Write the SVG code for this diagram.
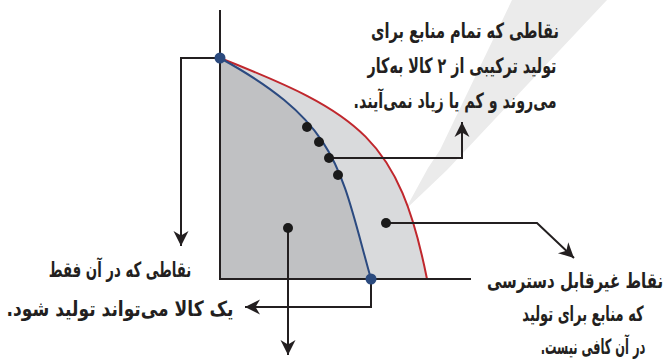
<svg xmlns="http://www.w3.org/2000/svg" width="664" height="362" viewBox="0 0 664 362">
<defs>
<marker id="arr" viewBox="-16 -8 17 16" refX="0" refY="0" markerWidth="17" markerHeight="16" markerUnits="userSpaceOnUse" orient="auto">
<path d="M0,0 L-15,-7.5 L-10.5,0 L-15,7.5 Z" fill="#231f20"/>
</marker>
</defs>
<style>
.t{font-family:"DejaVu Sans",sans-serif;font-weight:bold;font-size:21px;fill:#231f20;text-anchor:middle;direction:rtl;}
.ax{stroke:#231f20;stroke-width:2;fill:none;}
.cn{stroke:#231f20;stroke-width:2;fill:none;marker-end:url(#arr);}
.dot{fill:#1a1a1a;}
.bdot{fill:#2b4a7e;}
</style>
<rect width="664" height="362" fill="#ffffff"/>
<polygon id="band" points="512,0 607,0 447,170 405,210 428,168 440,150" fill="#ebebeb"/>
<g id="chart">
<path d="M220,58 C360,113 399,139 427,279 L220,279 Z" fill="#d9dadc"/>
<path d="M220,58 C340,124 340,169 371,279 L220,279 Z" fill="#c0c1c3"/>
<path d="M220,58 C360,113 399,139 427,279" stroke="#c0272d" stroke-width="2" fill="none"/>
<path d="M220,58 C340,124 340,169 371,279" stroke="#2b4a80" stroke-width="2" fill="none"/>
<line class="ax" x1="220" y1="10" x2="220" y2="279"/>
<line class="ax" x1="219" y1="279" x2="471" y2="279"/>
</g>
<g id="connectors">
<polyline class="cn" points="220,58 181,58 181,246"/>
<polyline class="cn" points="329,158 462,158 462,122"/>
<polyline class="cn" points="386,223 537,223 574,258"/>
<polyline class="cn" points="288,228 288,355"/>
<polyline class="cn" points="371,279 371,307 245,307"/>
</g>
<g id="points">
<circle class="bdot" cx="220" cy="58" r="5.5"/>
<circle class="bdot" cx="371" cy="279" r="5.5"/>
<circle class="dot" cx="307" cy="127" r="5"/>
<circle class="dot" cx="319" cy="142" r="5"/>
<circle class="dot" cx="329" cy="158" r="5"/>
<circle class="dot" cx="338" cy="175" r="5"/>
<circle class="dot" cx="386" cy="223" r="5"/>
<circle class="dot" cx="288" cy="228" r="5"/>
</g>
<g id="label-top">
<text class="t" transform="translate(465,38) scale(0.695,1)">نقاطی که تمام منابع برای</text>
<text class="t" transform="translate(462,73) scale(0.679,1)">تولید ترکیبی از ۲ کالا به‌کار</text>
<text class="t" transform="translate(455,108) scale(0.679,1)">می‌روند و کم یا زیاد نمی‌آیند.</text>
</g>
<g id="label-left">
<text class="t" transform="translate(120,277) scale(0.633,1)">نقاطی که در آن فقط</text>
<text class="t" transform="translate(120,316) scale(0.814,1)">یک کالا می‌تواند تولید شود.</text>
</g>
<g id="label-right">
<text class="t" transform="translate(575,288) scale(0.715,1)">نقاط غیرقابل دسترسی</text>
<text class="t" transform="translate(583,321) scale(0.62,1)">که منابع برای تولید</text>
<text class="t" transform="translate(593,354) scale(0.543,1)">در آن کافی نیست.</text>
</g>
</svg>
